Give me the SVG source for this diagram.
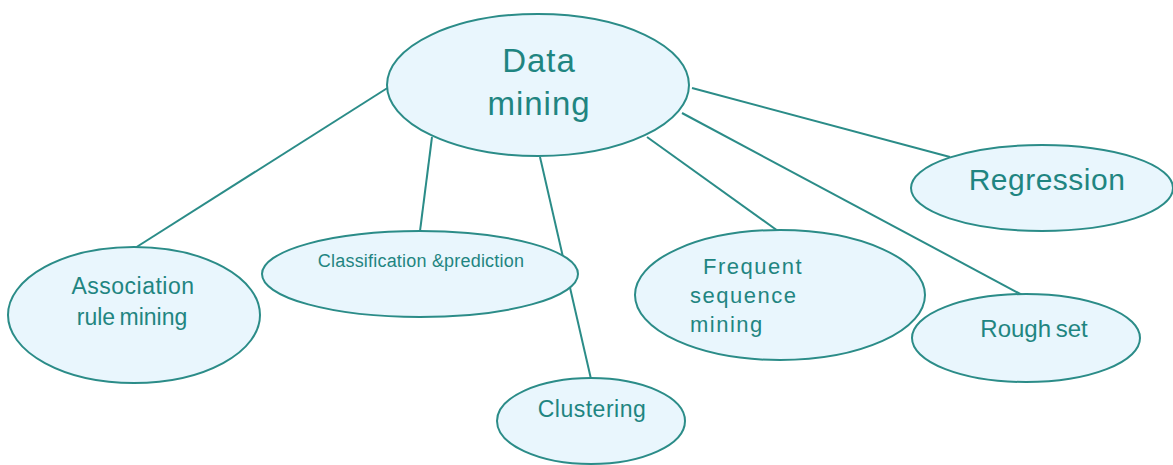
<svg xmlns="http://www.w3.org/2000/svg" width="1173" height="465" viewBox="0 0 1173 465">
  <style>
    .node ellipse { fill: #e9f6fd; stroke: #2b8c88; stroke-width: 2; }
    .node text { fill: #1f8581; font-family: "Liberation Sans", Arial, sans-serif; }
    .links line { stroke: #2b8c88; stroke-width: 2; }
  </style>
  <rect width="1173" height="465" fill="#ffffff"/>

  <!-- connectors from the central topic -->
  <g id="connectors" class="links">
    <line x1="389" y1="87" x2="135" y2="248"/>
    <line x1="432" y1="137" x2="420" y2="231"/>
    <line x1="540" y1="157" x2="591" y2="379"/>
    <line x1="647" y1="137" x2="778" y2="231"/>
    <line x1="682" y1="113" x2="1024" y2="296"/>
    <line x1="692" y1="88" x2="950" y2="157"/>
  </g>

  <g id="data-mining" class="node">
    <ellipse cx="538" cy="85" rx="151" ry="71"/>
    <text x="539" y="72" font-size="33" text-anchor="middle" letter-spacing="1">Data</text>
    <text x="539" y="115" font-size="33" text-anchor="middle" letter-spacing="1">mining</text>
  </g>

  <g id="association" class="node">
    <ellipse cx="134" cy="315" rx="126" ry="68"/>
    <text x="133" y="294" font-size="23" text-anchor="middle" letter-spacing="0.5">Association</text>
    <text x="132" y="325" font-size="23" text-anchor="middle" word-spacing="-2">rule mining</text>
  </g>

  <g id="classification" class="node">
    <ellipse cx="420" cy="274" rx="158" ry="43"/>
    <text x="421" y="267" font-size="18" text-anchor="middle" letter-spacing="0.2">Classification &amp;prediction</text>
  </g>

  <g id="clustering" class="node">
    <ellipse cx="591" cy="421" rx="94" ry="43"/>
    <text x="592" y="417" font-size="23" text-anchor="middle" letter-spacing="0.5">Clustering</text>
  </g>

  <g id="frequent" class="node">
    <ellipse cx="780" cy="295" rx="145" ry="65"/>
    <text x="703" y="274" font-size="22" letter-spacing="1.5">Frequent</text>
    <text x="690" y="303" font-size="22" letter-spacing="1.5">sequence</text>
    <text x="690" y="332" font-size="22" letter-spacing="1.5">mining</text>
  </g>

  <g id="regression" class="node">
    <ellipse cx="1042" cy="188" rx="131" ry="43"/>
    <text x="1047" y="190" font-size="30" text-anchor="middle" letter-spacing="0.5">Regression</text>
  </g>

  <g id="rough-set" class="node">
    <ellipse cx="1026" cy="338" rx="114" ry="44"/>
    <text x="1034" y="337" font-size="24" text-anchor="middle" word-spacing="-2">Rough set</text>
  </g>
</svg>
